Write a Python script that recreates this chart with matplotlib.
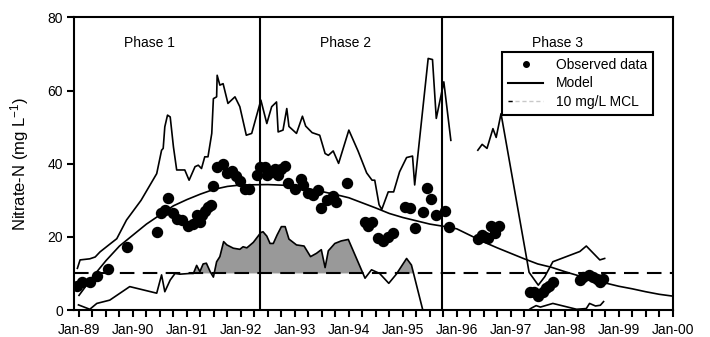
import numpy as np
import matplotlib
matplotlib.use("Agg")
import matplotlib.pyplot as plt
from matplotlib.lines import Line2D
from matplotlib.legend_handler import HandlerTuple
from matplotlib.ticker import FixedLocator, MultipleLocator

plt.rcParams['font.family'] = ['Liberation Sans', 'DejaVu Sans']
plt.rcParams['mathtext.default'] = 'regular'

# Observed nitrate-N (decimal year, mg/L)
obs_t = [1988.97, 1989.05, 1989.20, 1989.33, 1989.54, 1989.89, 1990.44, 1990.52,
         1990.59, 1990.64, 1990.75, 1990.82, 1990.90, 1991.02, 1991.12, 1991.18,
         1991.24, 1991.27, 1991.33, 1991.39, 1991.44, 1991.49, 1991.56, 1991.67,
         1991.74, 1991.83, 1991.91, 1991.98, 1992.07, 1992.15, 1992.29, 1992.35,
         1992.44, 1992.48, 1992.57, 1992.63, 1992.69, 1992.75, 1992.81, 1992.88,
         1993.00, 1993.12, 1993.15, 1993.25, 1993.33, 1993.43, 1993.49, 1993.59,
         1993.71, 1993.77, 1993.96, 1994.30, 1994.36, 1994.42, 1994.54, 1994.64,
         1994.73, 1994.82, 1995.04, 1995.14, 1995.22, 1995.37, 1995.45, 1995.53,
         1995.61, 1995.78, 1995.86, 1996.39, 1996.46, 1996.52, 1996.58, 1996.63,
         1996.70, 1996.78, 1997.35, 1997.44, 1997.51, 1997.60, 1997.66, 1997.71,
         1997.78, 1998.28, 1998.34, 1998.45, 1998.52, 1998.59, 1998.65, 1998.71]
obs_v = [6.6, 7.6, 7.7, 9.4, 11.1, 17.1, 21.4, 26.5,
         27.3, 30.6, 26.5, 24.9, 24.5, 23.0, 23.4, 26.0,
         24.1, 26.0, 27.0, 28.2, 28.7, 34.0, 39.0, 39.8,
         37.5, 37.9, 36.6, 35.3, 33.0, 33.0, 36.9, 39.2,
         39.0, 36.9, 37.8, 38.7, 36.9, 38.5, 39.5, 34.8,
         33.2, 35.7, 34.2, 31.9, 31.5, 32.7, 27.8, 30.0,
         31.2, 29.6, 34.6, 24.1, 23.0, 24.1, 19.6, 19.0,
         20.1, 21.0, 28.2, 27.8, 22.3, 26.8, 33.5, 30.4,
         25.9, 27.0, 22.8, 19.3, 20.5, 19.9, 19.6, 23.1,
         21.0, 23.1, 5.0, 4.8, 3.7, 5.0, 5.9, 6.6,
         7.7, 8.2, 8.9, 9.7, 8.9, 8.4, 7.7, 8.4]

# Model (central estimate)
model_t = [1989.0, 1989.25, 1989.5, 1989.75, 1990.0, 1990.25, 1990.5, 1990.75,
           1991.0, 1991.25, 1991.5, 1991.75, 1992.0, 1992.5, 1993.0, 1993.25,
           1993.5, 1993.75, 1994.0, 1994.25, 1994.5, 1994.75, 1995.0, 1995.25,
           1995.5, 1995.75, 1996.0, 1996.25, 1996.5, 1996.75, 1997.0, 1997.25,
           1997.5, 1997.75, 1998.0, 1998.25, 1998.5, 1998.75, 1999.0, 1999.25,
           1999.5, 1999.75, 2000.0]
model_v = [4.0, 9.0, 13.5, 17.5, 20.5, 23.5, 26.0, 28.5,
           30.2, 31.7, 33.0, 33.8, 34.2, 34.3, 34.0, 33.2,
           32.4, 31.6, 30.7, 29.3, 27.9, 26.4, 25.3, 24.4,
           23.5, 22.9, 22.2, 20.4, 18.6, 17.0, 15.5, 14.0,
           12.6, 11.7, 10.5, 9.4, 8.5, 7.4, 6.5, 5.8,
           5.0, 4.3, 3.8]

# Model upper bound (NaN marks a break in the record)
upper_t = [1988.97, 1989.02, 1989.20, 1989.30, 1989.39, 1989.57, 1989.70, 1989.88,
           1990.15, 1990.44, 1990.53, 1990.56, 1990.59, 1990.64, 1990.69, 1990.75,
           1990.81, 1990.96, 1991.04, 1991.15, 1991.21, 1991.27, 1991.33, 1991.39,
           1991.46, 1991.49, 1991.55, 1991.56, 1991.61, 1991.67, 1991.70, 1991.76,
           1991.89, 1991.98, 1992.10, 1992.20, 1992.37, 1992.48, 1992.57, 1992.66,
           1992.69, 1992.78, 1992.85, 1992.89, 1993.03, 1993.14, 1993.20, 1993.32,
           1993.46, 1993.56, 1993.62, 1993.71, 1993.81, 1994.00, 1994.17, 1994.33,
           1994.43, 1994.48, 1994.56, 1994.61, 1994.73, 1994.83, 1994.94, 1995.07,
           1995.18, 1995.22, 1995.47, 1995.55, 1995.62, 1995.76, 1995.89, 1996.1,
           1996.39, 1996.47, 1996.56, 1996.67, 1996.73, 1996.82, 1997.34, 1997.51,
           1997.63, 1997.78, 1998.28, 1998.40, 1998.65, 1998.74]
upper_v = [11.4, 13.7, 14.0, 14.5, 15.9, 18.0, 19.5, 24.6,
           30.0, 37.3, 43.7, 44.2, 50.1, 53.3, 52.8, 44.6,
           38.3, 38.3, 35.5, 39.2, 39.6, 38.7, 41.9, 41.9,
           48.3, 57.8, 58.3, 64.2, 61.5, 61.9, 60.1, 56.5,
           58.3, 55.6, 47.8, 48.3, 57.4, 51.0, 55.6, 56.9,
           48.7, 49.2, 55.1, 50.2, 48.3, 53.0, 50.3, 48.5,
           47.8, 42.8, 42.3, 43.5, 40.1, 49.2, 43.5, 37.5,
           35.5, 35.5, 28.8, 27.5, 32.3, 32.3, 37.8, 41.7,
           42.1, 34.2, 68.8, 68.5, 52.4, 62.4, 46.4, np.nan,
           43.7, 45.3, 44.2, 49.6, 47.2, 53.7, 10.3, 6.8,
           9.1, 13.2, 16.0, 17.5, 13.7, 14.1]

# Model lower bound
lower_t = [1988.99, 1989.20, 1989.33, 1989.57, 1989.94, 1990.44, 1990.53, 1990.59,
           1990.69, 1990.78, 1990.87, 1991.06, 1991.12, 1991.18, 1991.24, 1991.30,
           1991.36, 1991.43, 1991.49, 1991.55, 1991.61, 1991.68, 1991.74, 1991.86,
           1991.98, 1992.04, 1992.11, 1992.23, 1992.37, 1992.41, 1992.48, 1992.54,
           1992.60, 1992.67, 1992.75, 1992.82, 1992.89, 1993.03, 1993.17, 1993.29,
           1993.40, 1993.49, 1993.56, 1993.62, 1993.74, 1993.86, 1993.99, 1994.30,
           1994.42, 1994.57, 1994.74, 1994.88, 1995.07, 1995.16, 1995.37, 1996.5,
           1997.33, 1997.38, 1997.47, 1997.55, 1997.78, 1998.00, 1998.22, 1998.40,
           1998.46, 1998.57, 1998.66, 1998.72]
lower_v = [1.4, 0.2, 1.8, 2.7, 6.4, 4.6, 9.6, 5.0,
           8.2, 10.0, 9.8, 10.0, 10.0, 12.2, 10.5, 12.6,
           12.8, 10.5, 9.0, 13.2, 14.6, 18.7, 17.8, 16.9,
           16.6, 17.3, 17.0, 18.5, 21.2, 21.4, 20.2, 18.2,
           18.2, 20.5, 22.8, 22.8, 19.4, 17.8, 17.5, 14.6,
           15.5, 16.5, 11.6, 16.2, 18.2, 18.9, 19.3, 8.7,
           11.0, 10.0, 7.3, 9.8, 14.1, 12.3, 0.0, np.nan,
           0.0, 0.5, 1.2, 0.8, 1.8, 1.0, 0.2, 0.4,
           1.8, 1.1, 1.3, 2.3]

mcl = 10.0
shade_periods = [(1991.1, 1994.25), (1994.9, 1995.3)]
phase_breaks = [1992.357, 1995.735]
phase_labels = ["Phase 1", "Phase 2", "Phase 3"]
phase_label_x = [1990.30, 1993.94, 1997.86]
year_ticks = list(range(1989, 2001))
year_labels = ["Jan-89", "Jan-90", "Jan-91", "Jan-92", "Jan-93", "Jan-94",
               "Jan-95", "Jan-96", "Jan-97", "Jan-98", "Jan-99", "Jan-00"]

fig = plt.figure(figsize=(7.10, 3.37), dpi=100)
ax = fig.add_axes([0.1042, 0.0801, 0.8432, 0.868])

lt = np.array(lower_t)
lv = np.array(lower_v)
mask = np.zeros_like(lt, dtype=bool)
for a, b in shade_periods:
    mask |= (lt >= a) & (lt <= b)
mask &= ~np.isnan(lv)
lv_fill = np.where(np.isnan(lv), mcl, lv)
ax.fill_between(lt, mcl, lv_fill, where=mask & (lv_fill > mcl), interpolate=True,
                color='#999999', lw=0, zorder=1)

ax.axhline(mcl, color='black', lw=1.5, ls=(0, (7, 4)), zorder=2)

ax.plot(upper_t, upper_v, color='black', lw=1.2, zorder=3)
ax.plot(lower_t, lower_v, color='black', lw=1.2, zorder=3)
ax.plot(model_t, model_v, color='black', lw=1.2, zorder=3)

for xb in phase_breaks:
    ax.axvline(xb, color='black', lw=1.5, zorder=4)

ax.plot(obs_t, obs_v, 'o', color='black', ms=7.2, mec='black', zorder=5)

for lab, xl in zip(phase_labels, phase_label_x):
    ax.text(xl, 72.9, lab, ha='center', va='center', fontsize=10)

ax.set_xlim(1988.907, 2000.0)
ax.set_ylim(0, 80)
ax.xaxis.set_major_locator(FixedLocator(year_ticks))
ax.set_xticklabels(year_labels)
ax.xaxis.set_minor_locator(MultipleLocator(0.25))
ax.yaxis.set_major_locator(MultipleLocator(20))
ax.tick_params(axis='both', which='both', direction='out', width=1.5, labelsize=10,
               top=False, right=False)
ax.tick_params(axis='x', which='major', length=5, pad=4)
ax.tick_params(axis='x', which='minor', length=5)
ax.tick_params(axis='y', which='major', length=5, pad=3)
for s in ax.spines.values():
    s.set_linewidth(1.5)

ax.set_ylabel('Nitrate-N (mg L$^{-1}$)', fontsize=12)
ax.yaxis.set_label_coords(-0.072, 0.5)

h_obs = Line2D([], [], marker='o', ls='none', color='black', ms=4)
h_mod = Line2D([], [], color='black', lw=1.5)
h_mcl_a = Line2D([], [], color='#c8c8c8', lw=1.0, ls=(0, (3, 2)))
h_mcl_b = Line2D([], [], color='black', lw=1.0, ls=(0, (3, 100)))
leg = ax.legend([h_obs, h_mod, (h_mcl_a, h_mcl_b)],
                ['Observed data', 'Model', '10 mg/L MCL'],
                handler_map={tuple: HandlerTuple(ndivide=1)},
                loc='upper left', bbox_to_anchor=(0.715, 0.882), fontsize=10,
                frameon=True, fancybox=False, edgecolor='black', framealpha=1,
                borderpad=0.45, labelspacing=0.3, handlelength=2.5,
                handletextpad=0.9, borderaxespad=0)
leg.get_frame().set_linewidth(1.5)
leg.set_zorder(10)

fig.savefig('out.png', dpi=100)
